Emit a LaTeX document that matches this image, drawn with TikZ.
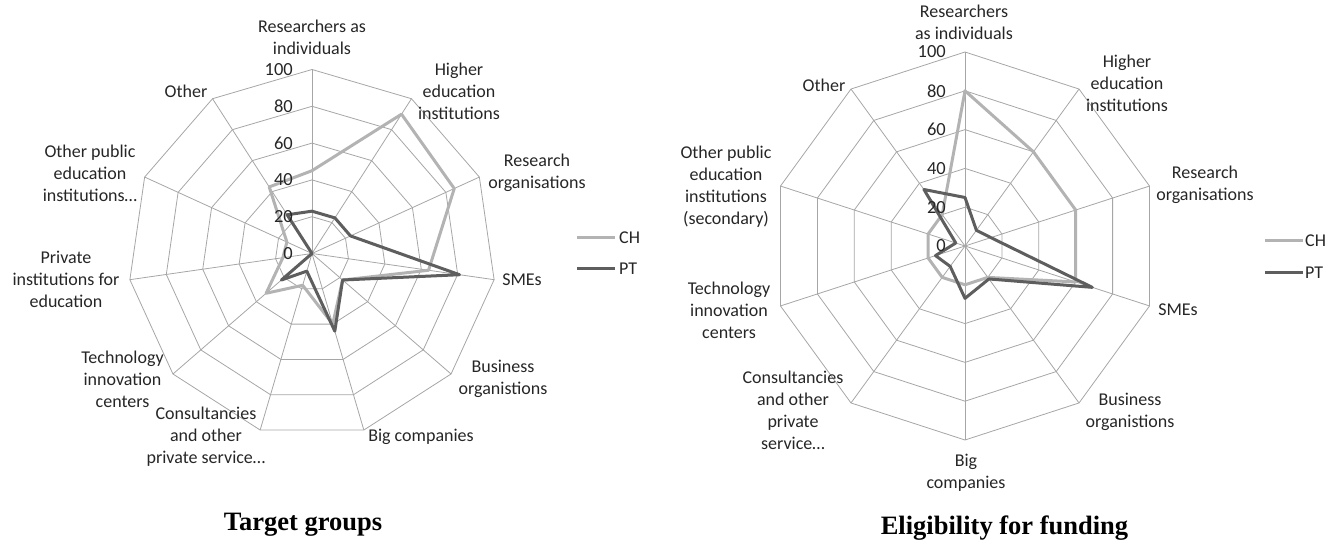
\documentclass[tikz,border=0pt]{standalone}
\usepackage{fontspec}
\setmainfont{Carlito}
\newfontfamily\titlefont{Liberation Serif}
\definecolor{gridc}{HTML}{A6A6A6}
\definecolor{chc}{HTML}{B3B3B3}
\definecolor{ptc}{HTML}{5E5E5E}
\definecolor{txtc}{HTML}{262626}
\begin{document}
\begin{tikzpicture}[x=1pt,y=-1pt,
  lbl/.style={font=\fontsize{18}{22}\selectfont, align=center, inner sep=0pt, text=txtc},
  tick/.style={font=\fontsize{18.5}{22}\selectfont, anchor=east, inner sep=0pt, text=txtc},
  gridline/.style={draw=gridc, line width=0.8pt},
  chline/.style={draw=chc, line width=3pt, line join=round},
  ptline/.style={draw=ptc, line width=3pt, line join=round},
  ttl/.style={font=\titlefont\bfseries\fontsize{26.5}{30}\selectfont, inner sep=0pt}]
\useasboundingbox (0,0) rectangle (1328,545);
% ---------------- left chart: Target groups ----------------
\def\cxA{312}\def\cyA{253.5}\def\RA{184}
\coordinate (A0) at (\cxA,\cyA);
\foreach \lev in {20,40,60,80,100}
  \draw[gridline] plot[samples=12, domain=0:11, variable=\k]
    ({\cxA+(\lev/100)*\RA*cos(90-\k*360/11)},{\cyA-(\lev/100)*\RA*sin(90-\k*360/11)}) -- cycle;
\foreach \k in {0,...,10}{
  \coordinate (AV\k) at ({\cxA+\RA*cos(90-\k*360/11)},{\cyA-\RA*sin(90-\k*360/11)});
  \draw[gridline] (A0) -- (AV\k);}
\foreach \v [count=\k from 0] in {45,90,85,64,22,40,18,33,16,15,43}
  \coordinate (ACH\k) at ({\cxA+(\v/100)*\RA*cos(90-\k*360/11)},{\cyA-(\v/100)*\RA*sin(90-\k*360/11)});
\foreach \v [count=\k from 0] in {23,23,23,81,22,44,10,22,0,0,25}
  \coordinate (APT\k) at ({\cxA+(\v/100)*\RA*cos(90-\k*360/11)},{\cyA-(\v/100)*\RA*sin(90-\k*360/11)});
\draw[chline] (ACH0) \foreach \k in {1,...,10}{ -- (ACH\k)} -- cycle;
\draw[ptline] (APT0) \foreach \k in {1,...,10}{ -- (APT\k)} -- cycle;
\foreach \v in {0,20,...,100}
  \node[tick] (AT\v) at (\cxA-19,{\cyA-(\v/100)*\RA}) {\v};
\node[lbl] (Al0) at (312,37) {Researchers as\\individuals};
\node[lbl] (Al1) at (459,91.5) {Higher\\education\\institutions};
\node[lbl] (Al2) at (537,173) {Research\\organisations};
\node[lbl] (Al3) at (522,280) {SMEs};
\node[lbl] (Al4) at (503,378.5) {Business\\organistions};
\node[lbl] (Al5) at (421,437) {Big companies};
\node[lbl] (Al6) at (206,436.5) {Consultancies\\and other\\private service\dots};
\node[lbl] (Al7) at (122.5,379) {Technology\\innovation\\centers};
\node[lbl] (Al8) at (66,279.5) {Private\\institutions for\\education};
\node[lbl] (Al9) at (90,173) {Other public\\education\\institutions\dots};
\node[lbl] (Al10) at (186,91) {Other};
% legend
\coordinate (ALc1) at (577,238); \coordinate (ALc2) at (615,238);
\coordinate (ALp1) at (577,269); \coordinate (ALp2) at (615,269);
\draw[chline] (ALc1) -- (ALc2);
\draw[ptline] (ALp1) -- (ALp2);
\node[lbl, anchor=west] (ALct) at (619,238) {CH};
\node[lbl, anchor=west] (ALpt) at (619,269) {PT};
\node[ttl] (Atitle) at (303,525) {Target groups};
% ---------------- right chart: Eligibility for funding ----------------
\def\cxB{965}\def\cyB{246}\def\RB{194}
\coordinate (B0) at (\cxB,\cyB);
\foreach \lev in {20,40,60,80,100}
  \draw[gridline] plot[samples=11, domain=0:10, variable=\k]
    ({\cxB+(\lev/100)*\RB*cos(90-\k*36)},{\cyB-(\lev/100)*\RB*sin(90-\k*36)}) -- cycle;
\foreach \k in {0,...,9}{
  \coordinate (BV\k) at ({\cxB+\RB*cos(90-\k*36)},{\cyB-\RB*sin(90-\k*36)});
  \draw[gridline] (B0) -- (BV\k);}
\foreach \v [count=\k from 0] in {80,60,60,60,20,20,20,20,20,20}
  \coordinate (BCH\k) at ({\cxB+(\v/100)*\RB*cos(90-\k*36)},{\cyB-(\v/100)*\RB*sin(90-\k*36)});
\foreach \v [count=\k from 0] in {25,10,14,69,21,27,13,16,5,36}
  \coordinate (BPT\k) at ({\cxB+(\v/100)*\RB*cos(90-\k*36)},{\cyB-(\v/100)*\RB*sin(90-\k*36)});
\draw[chline] (BCH0) \foreach \k in {1,...,9}{ -- (BCH\k)} -- cycle;
\draw[ptline] (BPT0) \foreach \k in {1,...,9}{ -- (BPT\k)} -- cycle;
\foreach \v in {0,20,...,100}
  \node[tick] (BT\v) at (\cxB-19,{\cyB-(\v/100)*\RB}) {\v};
\node[lbl] (Bl0) at (964,22.5) {Researchers\\as individuals};
\node[lbl] (Bl1) at (1127,83.5) {Higher\\education\\institutions};
\node[lbl] (Bl2) at (1205,184.5) {Research\\organisations};
\node[lbl] (Bl3) at (1178,310) {SMEs};
\node[lbl] (Bl4) at (1130,412) {Business\\organistions};
\node[lbl] (Bl5) at (966,472.5) {Big\\companies};
\node[lbl] (Bl6) at (793,410.5) {Consultancies\\and other\\private\\service\dots};
\node[lbl] (Bl7) at (729,310) {Technology\\innovation\\centers};
\node[lbl] (Bl8) at (726,186.5) {Other public\\education\\institutions\\(secondary)};
\node[lbl] (Bl9) at (824,85) {Other};
% legend
\coordinate (BLc1) at (1265,241); \coordinate (BLc2) at (1303,241);
\coordinate (BLp1) at (1265,273); \coordinate (BLp2) at (1303,273);
\draw[chline] (BLc1) -- (BLc2);
\draw[ptline] (BLp1) -- (BLp2);
\node[lbl, anchor=west] (BLct) at (1305,241) {CH};
\node[lbl, anchor=west] (BLpt) at (1305,273) {PT};
\node[ttl] (Btitle) at (1004.5,528) {Eligibility for funding};
\end{tikzpicture}
\end{document}
